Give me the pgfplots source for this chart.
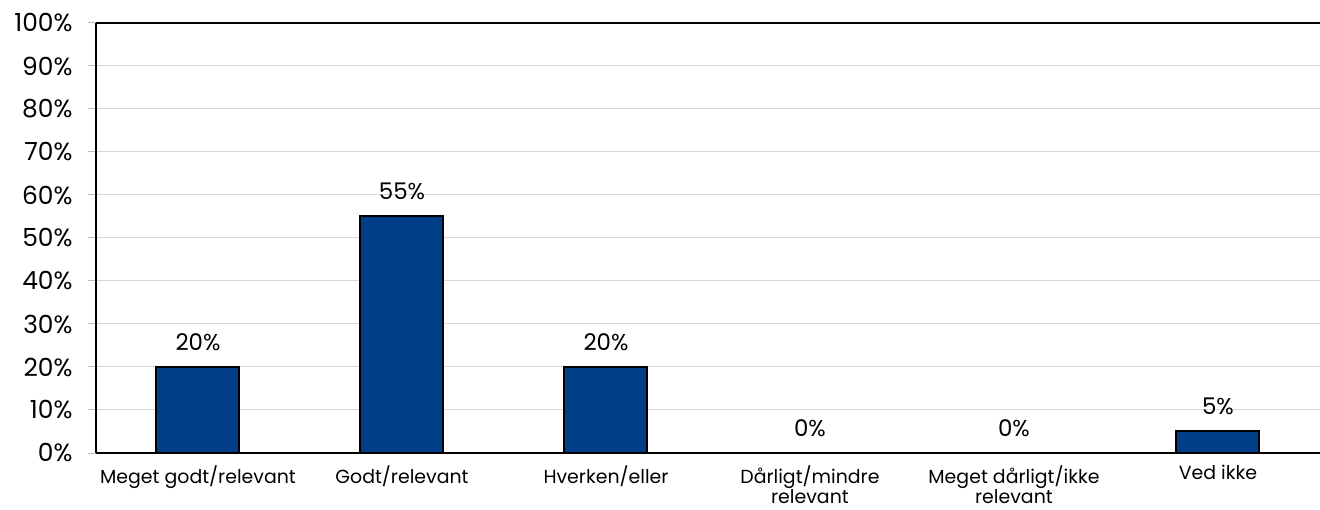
\documentclass[border=0pt]{standalone}
\usepackage{fontspec}
\setmainfont{Poppins}
\usepackage{pgfplots}
\pgfplotsset{compat=1.18}
\definecolor{BarBlue}{RGB}{0,62,135}
\definecolor{GridGray}{RGB}{217,217,217}
\begin{document}
\begin{tikzpicture}
\path[use as bounding box] (-96bp,-57bp) rectangle (1224bp,453bp);
\begin{axis}[
    at={(0,0)}, anchor=south west,
    scale only axis,
    width=1224bp, height=430bp,
    xmin=-0.5, xmax=5.5,
    ymin=0, ymax=100,
    axis x line*=bottom,
    axis y line*=left,
    axis line style={-, black, line width=2bp},
    ytick={0,10,...,100},
    yticklabel={\pgfmathprintnumber{\tick}\%},
    /pgf/number format/assume math mode=true,
    y tick label style={font=\fontsize{25}{29}\selectfont, xshift=-12bp},
    ytick style={GridGray!70!gray, line width=1bp},
    major tick length=8bp,
    tick align=outside,
    ymajorgrids,
    major grid style={GridGray, line width=1bp},
    extra y ticks={100},
    extra y tick labels={},
    extra y tick style={grid=major, major grid style={black, line width=2bp}},
    xtick=data,
    xticklabels={Meget godt/relevant, Godt/relevant, Hverken/eller, Dårligt/mindre\\relevant, Meget dårligt/ikke\\relevant, Ved ikke},
    x tick label style={font=\fontsize{19}{21}\selectfont, align=center, anchor=north, inner sep=1bp, yshift=-3bp},
    x tick style={draw=none},
    ybar,
    bar width=83bp,
    nodes near coords={\pgfmathprintnumber{\pgfplotspointmeta}\%},
    nodes near coords style={font=\fontsize{23}{27}\selectfont, anchor=south, yshift=12bp},
    clip=false,
]
\addplot[fill=BarBlue, draw=black, line width=2bp] coordinates {
    (0,20) (1,55) (2,20) (3,0) (4,0) (5,5)
};
\end{axis}
\end{tikzpicture}
\end{document}
